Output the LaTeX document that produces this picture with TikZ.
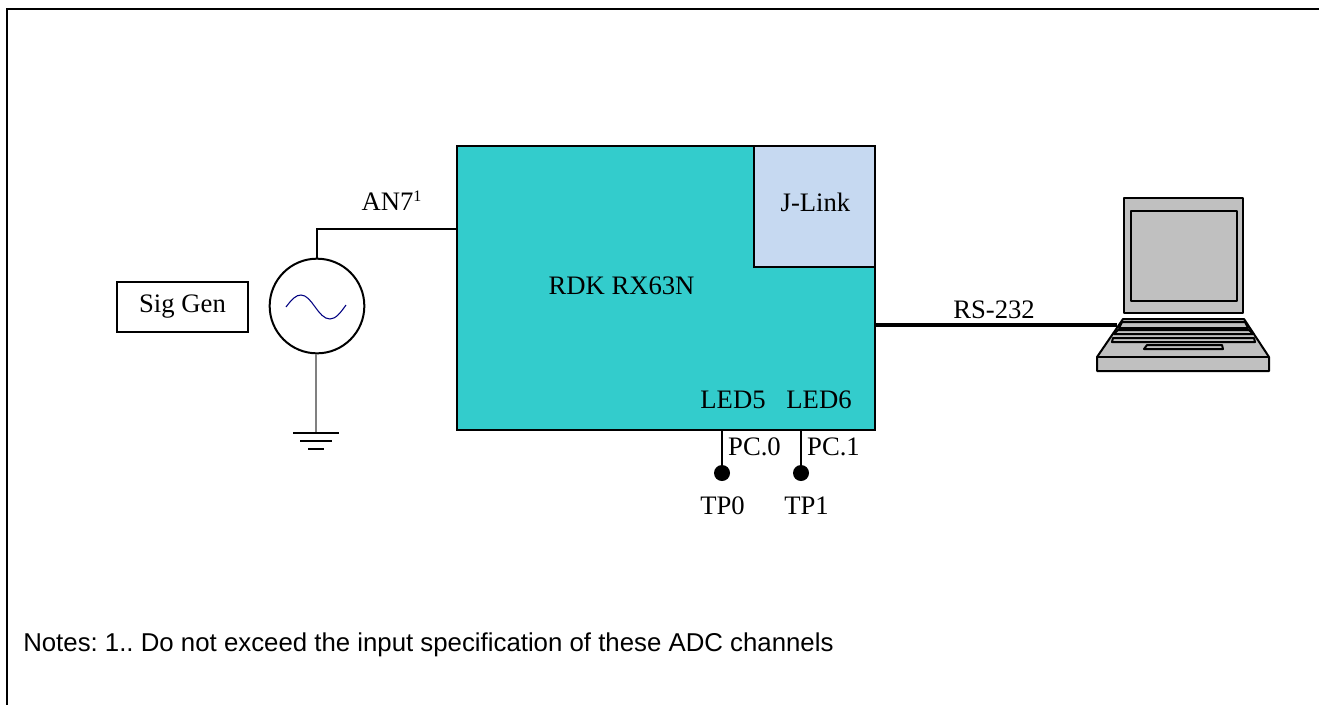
\documentclass[tikz,border=0pt]{standalone}
\usepackage{fontspec}
\setmainfont{Liberation Serif}
\setsansfont{Liberation Sans}
\usepackage{tikz}
\usetikzlibrary{calc}
\definecolor{BoardTeal}{HTML}{33CCCC}
\definecolor{LinkBlue}{HTML}{C6D9F1}
\definecolor{LaptopGray}{HTML}{C0C0C0}
\tikzset{
  lbl/.style={inner sep=0pt, font=\fontsize{20}{24}\selectfont},
  laptop/.style={draw, line width=1.5pt, fill=LaptopGray, line join=round},
  wire/.style={draw, line width=1.8pt},
  pin/.style={circle, fill=black, inner sep=0pt, minimum size=12pt},
}

\begin{document}
\begin{tikzpicture}[x=0.75pt,y=-0.75pt]
    \path[use as bounding box] (0,0) rectangle (1319,704);
    \draw[line width=1.5pt] (7,9) rectangle (1325,720);

    % board
    \node[draw,line width=1.5pt,fill=BoardTeal,anchor=north west,minimum width=313.5pt,minimum height=213pt,inner sep=0pt] at (456,145) (board) {};
    \node[draw,line width=1.5pt,fill=LinkBlue,anchor=north east,minimum width=90.75pt,minimum height=90.75pt,inner sep=0pt] at (board.north east) (jlink) {};
    \node[lbl] at (815.5,202) {J-Link};
    \node[lbl] at (621.5,286) {RDK RX63N};
    \node[lbl] at (733,400) {LED5};
    \node[lbl] at (819,400) {LED6};

    % signal generator
    \node[draw,line width=1.5pt,anchor=north west,minimum width=98.25pt,minimum height=37.5pt,inner sep=0pt,lbl] at (116,281) (siggen) {Sig Gen};
    \node[draw,circle,line width=1.5pt,minimum size=71pt,inner sep=0pt] at (317,306) (source) {};
    \draw[blue!50!black,line width=0.8pt] (286,307) .. controls (292,299) and (296,295) .. (301,295) .. controls (312,295) and (318,319) .. (330,319) .. controls (336,319) and (341,312) .. (346,305);

    \coordinate (corner) at (317,229);
    \draw[wire,line width=1.5pt] (source.north) -- (corner) -- (board.west |- corner);
    \node[lbl] at (391.5,201) (an) {AN7\raisebox{7pt}{\fontsize{12}{12}\selectfont 1}};

    % ground
    \coordinate (gnd) at (316,433);
    \draw[gray,line width=1pt] (gnd |- source.south) -- (gnd);
    \draw[line width=0.8pt] ($(gnd)+(-23,0)$) -- ($(gnd)+(23,0)$);
    \draw[line width=0.8pt] ($(gnd)+(-16,8)$) -- ($(gnd)+(16,8)$);
    \draw[line width=0.8pt] ($(gnd)+(-8,16)$) -- ($(gnd)+(8,16)$);

    % test points
    \node[pin] at (722,473) (tp0) {};
    \node[pin] at (801,473) (tp1) {};
    \draw[wire] (tp0) -- (tp0 |- board.south);
    \draw[wire] (tp1) -- (tp1 |- board.south);
    \node[lbl] at (754.5,447) {PC.0};
    \node[lbl] at (833.5,447) {PC.1};
    \node[lbl] at (722.5,506) {TP0};
    \node[lbl] at (806.5,506) {TP1};

    % laptop
    \draw[laptop] (1124,198) rectangle (1243,313);
    \draw[laptop] (1131,211) rectangle (1237,301);
    \draw[laptop] (1123,319) -- (1244,319) -- (1269,357) -- (1269,371) -- (1097,371) -- (1097,357) -- cycle;
    \draw[laptop] (1097,357) -- (1269,357);
    \draw[laptop] (1122,322) -- (1245,322) -- (1248,328) -- (1119,328) -- cycle;
    \draw[laptop] (1118,330) -- (1249,330) -- (1253,334) -- (1114,334) -- cycle;
    \draw[laptop] (1113,338) -- (1254,338) -- (1255,342) -- (1112,342) -- cycle;
    \draw[laptop] (1147,345) -- (1222,345) -- (1223,349) -- (1144,349) -- cycle;
    \coordinate (laptop) at (1117,324.5);
    \draw[line width=3pt] (board.east |- laptop) -- (laptop);
    \node[lbl] at (994,310) {RS-232};

    \node[lbl,font=\sffamily\fontsize{19.35}{24}\selectfont,anchor=west] at (23,645) {\frenchspacing Notes: 1.. Do not exceed the input specification of these ADC channels};
\end{tikzpicture}
\end{document}
